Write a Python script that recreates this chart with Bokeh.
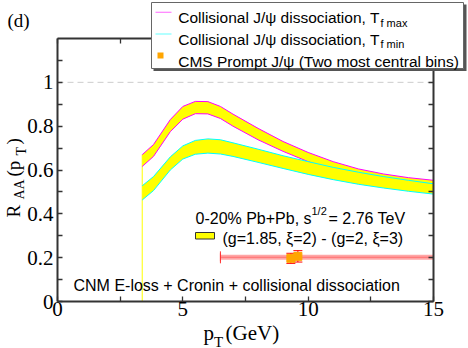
import numpy as np
from bokeh.plotting import figure
from bokeh.models import Range1d, FixedTicker, LinearAxis, Label, BoxAnnotation
from bokeh.core.properties import value
from bokeh.embed import file_html
from bokeh.resources import INLINE

# ---------------- data ----------------
pt = [3.38, 3.83, 4.5, 5.0, 5.5, 6.0, 6.5, 7.0, 8.0, 9.0, 10.0, 11.0, 12.0, 13.0, 14.0, 15.0]
tfmax_hi = [0.670, 0.716, 0.830, 0.890, 0.913, 0.912, 0.890, 0.855, 0.790, 0.730, 0.680, 0.638, 0.605, 0.582, 0.565, 0.553]
tfmax_lo = [0.616, 0.662, 0.775, 0.832, 0.857, 0.856, 0.835, 0.800, 0.738, 0.685, 0.638, 0.600, 0.570, 0.548, 0.532, 0.518]
tfmin_hi = [0.528, 0.570, 0.660, 0.710, 0.735, 0.742, 0.738, 0.724, 0.695, 0.665, 0.638, 0.612, 0.590, 0.570, 0.553, 0.537]
tfmin_lo = [0.463, 0.506, 0.600, 0.650, 0.672, 0.677, 0.673, 0.662, 0.635, 0.607, 0.580, 0.556, 0.535, 0.518, 0.503, 0.490]

cms_pt = [9.31, 9.59]
cms_raa = [0.197, 0.206]
cms_err = [0.023, 0.026]
cms_pt_lo = [6.5, 6.5]
cms_pt_hi = [30.0, 30.0]

x_ticks = [0, 5, 10, 15]
x_minor = [2.5, 7.5, 12.5]
y_ticks = [0.0, 0.2, 0.4, 0.6, 0.8, 1.0]
y_minor = [0.1, 0.3, 0.5, 0.7, 0.9, 1.1]
y_tick_labels = ["0", "0.2", "0.4", "0.6", "0.8", "1"]
x_min, x_max = 0.0, 15.0
y_min, y_max = 0.0, 1.2
ref_line = 1.0

# ---------------- layout: plot box inside a full-canvas frame ----------------
W, H = 468, 348
BOX_L, BOX_R, BOX_T, BOX_B = 57, 433, 38, 301   # canvas px of the drawn box
kx = (BOX_R - BOX_L) / (x_max - x_min)
ky = (BOX_B - BOX_T) / (y_max - y_min)
xr = Range1d(x_min - BOX_L / kx, x_max + (W - BOX_R) / kx)
yr = Range1d(y_min - (H - BOX_B) / ky, y_max + BOX_T / ky)

p = figure(width=W, height=H, x_range=xr, y_range=yr,
           output_backend="svg", toolbar_location=None,
           x_axis_type=None, y_axis_type=None,
           min_border=0, min_border_left=0, min_border_right=0,
           min_border_top=0, min_border_bottom=0)
p.outline_line_color = None
p.background_fill_color = "white"
p.border_fill_color = "white"

SERIF = "Liberation Serif"
SANS = "Liberation Sans"
FRAME_COL = "#333333"


def style_axis(ax):
    ax.axis_line_color = FRAME_COL
    ax.axis_line_width = 2
    ax.major_tick_in = 5
    ax.major_tick_out = 0
    ax.minor_tick_in = 5
    ax.minor_tick_out = 0
    ax.major_tick_line_color = FRAME_COL
    ax.minor_tick_line_color = FRAME_COL
    ax.major_tick_line_width = 1.3
    ax.minor_tick_line_width = 1.3
    ax.major_label_text_font = SERIF
    ax.major_label_text_font_size = "21px"
    ax.major_label_text_color = "black"


xt = FixedTicker(ticks=x_ticks, minor_ticks=x_minor)
yt = FixedTicker(ticks=y_ticks, minor_ticks=y_minor)

ax_b = LinearAxis(ticker=xt, fixed_location=y_min, bounds=(x_min, x_max))
style_axis(ax_b)
ax_b.major_label_standoff = 0
p.add_layout(ax_b, "below")

ax_l = LinearAxis(ticker=yt, fixed_location=x_min, bounds=(y_min, y_max))
style_axis(ax_l)
ax_l.major_label_standoff = 4
ax_l.major_label_overrides = {v: s for v, s in zip(y_ticks, y_tick_labels)}
p.add_layout(ax_l, "left")

ax_t = LinearAxis(ticker=xt, fixed_location=y_max, bounds=(x_min, x_max))
style_axis(ax_t)
ax_t.major_label_overrides = {v: "" for v in x_ticks}
p.add_layout(ax_t, "above")

ax_r = LinearAxis(ticker=yt, fixed_location=x_max, bounds=(y_min, y_max))
style_axis(ax_r)
ax_r.major_label_overrides = {v: "" for v in y_ticks}
p.add_layout(ax_r, "right")

# dashed reference line at R_AA = 1
p.segment(x0=[x_min], y0=[ref_line], x1=[x_max], y1=[ref_line],
          line_color="#cccccc", line_width=1, line_dash="6 4")

# thin vertical yellow edge at start of band
p.segment(x0=[pt[0]], y0=[y_min], x1=[pt[0]], y1=[tfmax_hi[0]], line_color="#ffff00", line_width=1)

# bands
p.varea(x=pt, y1=tfmax_lo, y2=tfmax_hi, fill_color="#ffff00")
p.line(pt, tfmax_hi, line_color="#ff00ff", line_width=1)
p.line(pt, tfmax_lo, line_color="#ff00ff", line_width=1)
p.varea(x=pt, y1=tfmin_lo, y2=tfmin_hi, fill_color="#ffff00")
p.line(pt, tfmin_hi, line_color="#00ffff", line_width=1)
p.line(pt, tfmin_lo, line_color="#00ffff", line_width=1)

# CMS data (horizontal bin bars cut at the plot edge)
hi_vis = [min(v, x_max) for v in cms_pt_hi]
p.segment(x0=cms_pt_lo, y0=cms_raa, x1=hi_vis, y1=cms_raa,
          line_color="#ff0000", line_alpha=0.35, line_width=3)
p.scatter(x=cms_pt_lo, y=cms_raa, marker="dash", angle=np.pi / 2, size=10,
          line_color="#ff3333", line_width=1)
ylo = [v - e for v, e in zip(cms_raa, cms_err)]
yhi = [v + e for v, e in zip(cms_raa, cms_err)]
p.segment(x0=cms_pt, y0=ylo, x1=cms_pt, y1=yhi, line_color="#ff0000", line_width=1)
p.scatter(x=cms_pt + cms_pt, y=ylo + yhi, marker="dash", size=9, line_color="#ff0000", line_width=1)
p.scatter(x=cms_pt, y=cms_raa, marker="square", size=8, fill_color="#ffa500", line_color="#ffa500")


# ---------------- annotations (screen units; frame = whole canvas) ----------------
def sx(px):
    return px


def sy(py):
    return H - py


def lab(text, px, py, size, font, align="left", baseline="alphabetic"):
    p.add_layout(Label(x=sx(px), y=sy(py), x_units="screen", y_units="screen", text=text,
                       text_font=font, text_font_size=size, text_align=align,
                       text_baseline=baseline, text_color="black"))


def box(l, r, t, b, fill, line=None, lw=1):
    p.add_layout(BoxAnnotation(left=sx(l), right=sx(r), top=sy(t), bottom=sy(b),
                               left_units="screen", right_units="screen",
                               top_units="screen", bottom_units="screen",
                               fill_color=fill, fill_alpha=1.0,
                               line_color=line, line_alpha=1.0, line_width=lw))


def px_to_data(px, py):
    return x_min + (px - BOX_L) / kx, y_min + (BOX_B - py) / ky


def vtext(text, px, py, size):
    dx, dy = px_to_data(px, py)
    p.text(x=[dx], y=[dy], text=[text], angle=float(np.pi / 2),
           text_font=value(SERIF), text_font_size=value(size),
           text_align="left", text_baseline="alphabetic", text_color="black")


# panel label
lab("(d)", 7, 20, "19px", SERIF)

# axis titles
lab("p", 203, 332, "21px", SERIF)
lab("T", 213.5, 341, "15px", SERIF)
lab("(GeV)", 225, 332, "21px", SERIF)

vtext("R", 13, 217, "19px")
vtext("AA", 19, 199, "14px")
vtext("(p", 13, 176, "19px")
vtext("T", 21, 155, "14px")
vtext(")", 13, 144, "19px")

# inner texts
lab("0-20% Pb+Pb, s", 195, 218, "16px", SANS)
lab("1/2", 311, 210, "11px", SANS)
lab("= 2.76 TeV", 328, 218, "16px", SANS)
box(195, 214, 232, 238.5, "#ffff00", "#333333", 1)
lab("(g=1.85, \u03be=2) - (g=2, \u03be=3)", 222, 238, "16px", SANS)
lab("CNM E-loss + Cronin + collisional dissociation", 73, 285, "16px", SANS)

# legend
box(153, 466, 4, 70.5, "#555555", None)
box(151, 463, 2, 68, "#ffffff", "#666666", 1)
box(155, 171, 11.3, 12.3, "#ff66ff")
box(155, 171, 33, 34, "#66ffff")
box(157, 163, 52, 58, "#ffa500")
lab("Collisional J/\u03c8 dissociation, T", 177.7, 17.3, "15.5px", SANS)
lab("f max", 380, 22.3, "11px", SANS)
lab("Collisional J/\u03c8 dissociation, T", 177.7, 39, "15.5px", SANS)
lab("f min", 380, 43.8, "11px", SANS)
lab("CMS Prompt J/\u03c8 (Two most central bins)", 177.7, 60.7, "15.5px", SANS)

open("out.html", "w").write(file_html(p, INLINE))
